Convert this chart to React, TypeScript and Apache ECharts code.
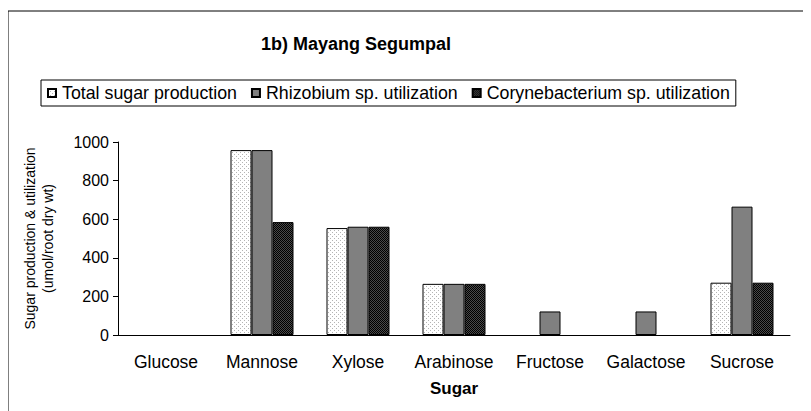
import React, { useEffect, useRef } from "react";
import * as echarts from "echarts";

const categories = ["Glucose", "Mannose", "Xylose", "Arabinose", "Fructose", "Galactose", "Sucrose"];
const seriesNames = ["Total sugar production", "Rhizobium sp. utilization", "Corynebacterium sp. utilization"];
const totalSugar = [0, 958, 554, 265, 0, 0, 271];
const rhizobium = [0, 958, 561, 265, 122, 122, 665];
const corynebacterium = [0, 585, 561, 265, 0, 0, 271];
const yMin = 0;
const yMax = 1000;
const yInterval = 200;

const FONT = "'Liberation Sans', Arial, sans-serif";

function makeDots(): HTMLCanvasElement {
  const c = document.createElement("canvas");
  c.width = 4;
  c.height = 4;
  const ctx = c.getContext("2d")!;
  ctx.fillStyle = "#ffffff";
  ctx.fillRect(0, 0, 4, 4);
  ctx.fillStyle = "#b4b4b4";
  ctx.fillRect(0, 0, 1, 1);
  ctx.fillRect(2, 2, 1, 1);
  return c;
}

function makeChecker(): HTMLCanvasElement {
  const c = document.createElement("canvas");
  c.width = 2;
  c.height = 2;
  const ctx = c.getContext("2d")!;
  ctx.fillStyle = "#4a4a4a";
  ctx.fillRect(0, 0, 2, 2);
  ctx.fillStyle = "#000000";
  ctx.fillRect(0, 0, 1, 1);
  ctx.fillRect(1, 1, 1, 1);
  return c;
}

export default function App() {
  const ref = useRef<HTMLDivElement>(null);
  useEffect(() => {
    if (!ref.current) return;
    const chart = echarts.init(ref.current, undefined, { renderer: "svg" });
    const dots = makeDots();
    const checker = makeChecker();
    const fills: any[] = [
      { image: dots, repeat: "repeat" },
      "#808080",
      { image: checker, repeat: "repeat" },
    ];
    const datas = [totalSugar, rhizobium, corynebacterium];
    chart.setOption({
      animation: false,
      backgroundColor: "#ffffff",
      textStyle: { fontFamily: FONT, color: "#000" },
      graphic: [
        {
          type: "rect",
          shape: { x: 8, y: 11, width: 830, height: 430 },
          style: { fill: "none", stroke: "#000", lineWidth: 1 },
          silent: true,
        },
        {
          type: "text",
          x: 356,
          y: 35,
          style: {
            text: "1b) Mayang Segumpal",
            font: `bold 18px ${FONT}`,
            fill: "#000",
            align: "center",
            verticalAlign: "top",
          },
        },
      ],
      legend: {
        left: 41,
        top: 80,
        padding: [4, 6],
        itemGap: 14,
        itemWidth: 8,
        itemHeight: 8,
        borderColor: "#000",
        borderWidth: 1,
        icon: "rect",
        textStyle: { fontFamily: FONT, fontSize: 17.8, color: "#000", padding: [0, 0, 0, 1] },
        data: seriesNames,
      },
      grid: { left: 118, right: 21, top: 142, bottom: 76 },
      xAxis: {
        type: "category",
        data: categories,
        name: "Sugar",
        nameLocation: "middle",
        nameGap: 45,
        nameTextStyle: { fontFamily: FONT, fontSize: 17, fontWeight: "bold", color: "#000" },
        axisLine: { lineStyle: { color: "#000", width: 1 } },
        axisTick: { length: 5, lineStyle: { color: "#000" } },
        axisLabel: { fontFamily: FONT, fontSize: 17.5, color: "#000", margin: 18, interval: 0 },
      },
      yAxis: {
        type: "value",
        min: yMin,
        max: yMax,
        interval: yInterval,
        name: "Sugar production & utilization\n(umol/root dry wt)",
        nameLocation: "middle",
        nameGap: 61,
        nameTextStyle: { fontFamily: FONT, fontSize: 14, color: "#000", lineHeight: 18 },
        axisLine: { show: true, lineStyle: { color: "#000", width: 1 } },
        axisTick: { show: true, length: 5, lineStyle: { color: "#000" } },
        axisLabel: {
          fontFamily: FONT,
          fontSize: 16,
          color: "#000",
          margin: 9,
          formatter: (v: number) => String(v),
        },
        splitLine: { show: false },
      },
      series: seriesNames.map((name, i) => ({
        name,
        type: "bar",
        data: datas[i].map((v) => (v === 0 ? { value: v, itemStyle: { borderWidth: 0 } } : v)),
        barWidth: 21,
        barGap: "0%",
        itemStyle: { color: fills[i], borderColor: "#000", borderWidth: 1 },
      })),
    });
    return () => chart.dispose();
  }, []);
  return <div ref={ref} style={{ width: 811, height: 411, marginLeft: -8, marginTop: -8 }} />;
}
